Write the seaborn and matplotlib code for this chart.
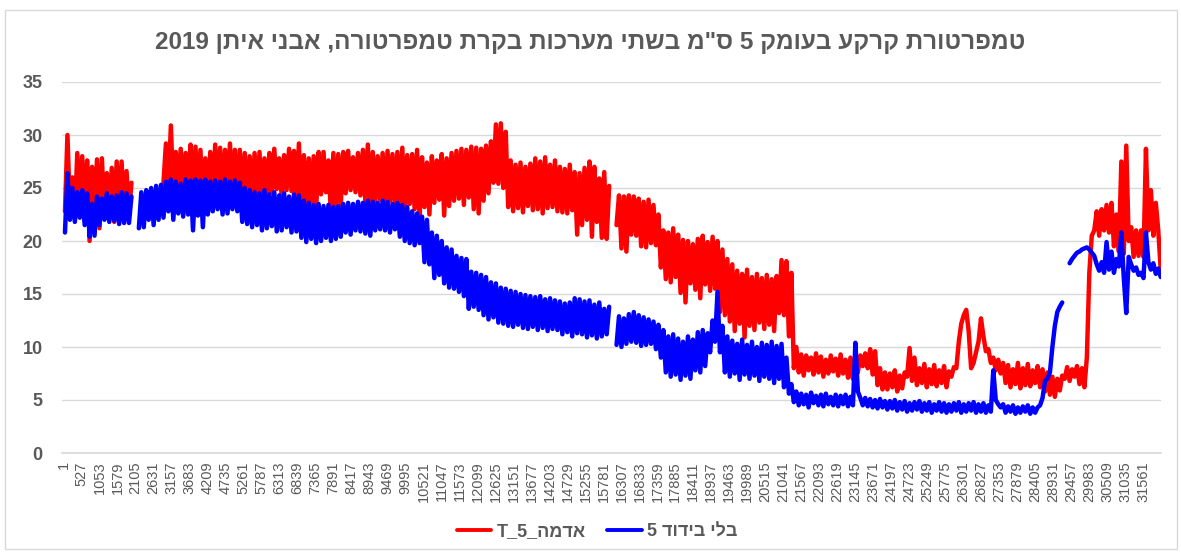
import re
import numpy as np
import pandas as pd
import matplotlib
matplotlib.use('Agg')
import matplotlib.pyplot as plt
from matplotlib.lines import Line2D
from matplotlib.patches import Rectangle
import seaborn as sns

nan = np.nan

# 10-minute logger -> 144 samples per day; two readings per day
# (early reading = daily low, afternoon reading = daily high), nan = logger gap
SAMPLES_PER_DAY = 144

red_am = [
    22.8, 23.0, 22.5, 22.8, 22.0, 20.0, 21.5, 21.2, 22.2, 22.5, 21.8, 22.3, 22.0, 22.6,  # 0-13
    nan, nan, nan, nan, nan, nan,  # 14-19
    25.5, 24.8, 24.5, 24.6, 24.3, 24.7, 23.0,  # 20-26
    23.5, 24.0, 23.2, 23.6, 23.8, 23.4, 23.9, 24.0, 23.6, 23.2,  # 27-36
    23.0, 23.3, 23.1, 22.9, 23.5, 24.6, 24.9, 24.2, 24.8, 24.7, 23.5, 22.9, 23.1, 23.2, 23.0, 24.4, 24.6, 22.4,  # 37-54
    23.0, 23.4, 24.5, 24.8, 24.6, 24.3, 23.6, 22.8, 23.5, 23.9, 23.4, 23.8, 23.2, 22.9, 22.5,  # 55-69
    23.5, 23.0, 22.0, 23.2, 22.5, 23.6, 23.9, 22.4, 23.3, 23.8, 24.0, 23.4, 24.1, 23.0, 22.6, 23.8, 24.5, 25.5, 25.4,  # 70-88
    25.0, 23.2, 22.8, 23.1, 22.7, 23.3, 22.9, 23.0, 22.6, 23.1, 23.2, 22.8, 22.7, 22.6, 22.9, 20.6, 21.5, 22.0, 20.4, 21.8, 20.3, 20.2,  # 89-110
    nan,  # 111
    21.5, 19.3, 19.0, 20.6, 20.5, 19.5, 19.4, 19.8, 19.6, 17.5,  # 112-121
    16.4, 16.1, 16.6, 15.1, 14.2, 16.0, 15.4, 14.6, 15.9, 15.3, 15.5,  # 122-132
    13.3, 13.0, 12.4, 11.5, 12.2, 10.9, 12.0, 11.6, 12.3, 11.7, 12.1, 11.5, 13.2, 13.0, 11.0,  # 133-147
    8.0, 7.6, 7.3, 7.8, 7.4, 7.6, 7.2, 7.5, 7.7, 7.3, 7.5, 7.1, 7.0, 7.6, 8.2, 8.0, 7.4, 6.4, 6.0,  # 148-166
    6.0, 6.2, 5.8, 6.1, 7.2, 6.8, 6.4, 6.6, 6.2, 6.5, 6.3, 6.6, 6.2,  # 167-179
    7.2, 8.0, 12.2, 13.5, 8.0, 9.5, 12.7, 9.6, 8.5, 7.8, 7.5,  # 180-190
    6.6, 6.2, 6.5, 6.1, 6.4, 6.3, 6.6, 6.2, 5.8, 5.5, 5.3, 5.9,  # 191-202
    7.0, 6.8, 7.2, 6.5, 6.2, 17.0, 21.0, 20.5, 21.0, 20.8, 19.5,  # 203-213
    19.0, 18.8, 20.0, 18.5, 18.6, 18.5, 21.0, 20.5, 21.0,  # 214-222
]
red_pm = [
    30.0, 26.0, 28.3, 28.0, 27.6, 27.0, 27.7, 27.8, 26.4, 26.9, 27.5, 27.5, 26.6, 25.5,
    nan, nan, nan, nan, nan, nan,
    29.2, 30.9, 28.4, 28.7, 28.3, 29.1, 28.9,
    28.6, 27.8, 28.4, 29.1, 28.8, 28.6, 29.2, 28.6, 28.6, 28.3,
    28.0, 28.3, 28.4, 27.8, 28.3, 28.7, 27.8, 28.1, 28.7, 28.5, 29.2, 28.1, 27.8, 28.0, 28.4, 28.4, 27.6, 28.3,
    28.2, 28.4, 28.5, 27.9, 28.3, 28.6, 29.1, 28.4, 28.0, 28.3, 28.5, 28.2, 28.4, 28.8, 28.1,
    28.2, 28.6, 27.9, 27.4, 28.0, 27.6, 28.2, 27.8, 28.3, 28.5, 28.7, 28.6, 28.9, 28.8, 28.7, 29.0, 29.4, 31.0, 31.1,
    30.3, 27.6, 27.2, 27.4, 27.0, 27.3, 27.8, 27.5, 27.9, 27.2, 27.6, 27.0, 26.8, 27.2, 26.5, 26.4, 26.9, 27.5, 27.0, 25.9, 26.5, 25.2,
    nan,
    24.3, 24.2, 24.3, 24.2, 24.0, 23.7, 23.9, 23.4, 22.5, 21.0,
    20.8, 21.2, 20.6, 20.1, 20.0, 19.7, 20.2, 20.5, 19.9, 20.4, 20.0,
    19.2, 18.3, 17.8, 17.2, 16.9, 17.3, 16.6, 16.9, 16.5, 16.8, 16.4, 16.7, 18.2, 18.1, 17.0,
    10.0, 9.3, 9.2, 9.0, 9.4, 9.1, 8.8, 9.2, 8.9, 9.3, 8.8, 9.0, 8.6, 9.2, 9.4, 9.8, 9.6, 8.0, 7.6,
    7.5, 7.8, 7.3, 7.6, 9.9, 9.0, 8.0, 8.4, 7.9, 8.3, 7.8, 8.2, 7.7,
    8.1, 10.5, 13.0, 11.5, 8.5, 10.5, 11.0, 9.8, 9.0, 8.8, 8.5,
    8.3, 7.9, 8.5, 8.0, 8.4, 7.8, 8.2, 7.9, 7.6, 7.2, 7.0, 7.3,
    8.1, 7.9, 8.2, 8.0, 9.0, 20.5, 22.8, 23.0, 23.4, 23.6, 22.5,
    27.5, 29.0, 21.3, 21.0, 21.0, 28.7, 24.8, 23.6, 17.3,
]
blue_am = [
    20.8, 22.0, 21.8, 22.2, 21.5, 20.4, 20.5, 21.5, 22.0, 21.8, 21.9, 21.6, 21.7, 21.7,  # 0-13
    nan,  # 14
    21.2, 21.3, 22.0, 21.5, 22.0,  # 15-19
    22.2, 22.8, 22.0, 22.6, 22.3, 22.5, 21.0,  # 20-26
    22.4, 21.3, 22.5, 22.8, 23.0, 22.5, 22.6, 23.0, 22.8, 21.8,  # 27-36
    21.6, 21.3, 21.5, 21.0, 21.2, 21.4, 20.9, 21.0, 21.3, 20.8, 20.9, 20.3, 19.9, 20.2, 19.8, 20.0, 20.3, 20.0,  # 37-54
    20.2, 20.4, 20.8, 20.6, 21.0, 20.9, 20.7, 20.5, 21.0, 21.1, 21.0, 20.8, 21.1, 20.4, 20.0,  # 55-69
    19.8, 19.6, 19.8, 18.0, 17.8, 16.5, 16.8, 16.0, 15.6, 15.5, 15.2, 14.8, 13.6, 13.8, 13.5, 13.0, 12.6, 12.8, 12.3,  # 70-88
    12.2, 12.0, 11.9, 12.1, 11.8, 11.7, 11.9, 11.6, 11.8, 11.5, 11.7, 11.6, 11.2, 11.4, 11.0, 11.3, 11.2, 10.9, 11.1, 10.8, 11.0, 11.2,  # 89-110
    nan,  # 111
    10.2, 10.0, 10.3, 10.5, 10.4, 10.1, 10.2, 10.3, 9.8, 9.0,  # 112-121
    7.6, 7.2, 7.4, 6.9, 7.3, 7.0, 7.8, 7.6, 8.2, 9.5, 10.5,  # 122-132
    9.5, 7.6, 7.2, 7.5, 6.9, 7.4, 7.0, 7.3, 6.8, 7.2, 7.0, 6.6, 7.0, 6.2, 5.6,  # 133-147
    4.8, 4.5, 4.6, 4.3, 4.7, 4.5, 4.4, 4.6, 4.5, 4.4, 4.6, 4.4, 4.5, 5.8, 4.5, 4.4, 4.3, 4.2, 4.3,  # 148-166
    4.1, 4.2, 4.0, 4.1, 3.9, 4.0, 4.1, 3.9, 4.0, 3.8, 4.0, 3.9, 3.8,  # 167-179
    3.9, 4.0, 3.8, 3.9, 4.0, 3.8, 3.9, 3.8, 3.9, 5.0, 4.3,  # 180-190
    3.8, 3.9, 3.7, 3.8, 3.9, 3.7, 3.8, 4.5, 6.8, 7.6, 12.0, 13.8,  # 191-202
    nan,  # 203
    17.9, 18.6, 19.0, 19.3, 19.2,  # 204-208
    18.6, 17.2, 17.0, 17.3, 17.0, 17.6, 16.5, 18.5, 17.2, 16.8, 16.5, 18.0, 17.9, 17.4,  # 209-222
]
blue_pm = [
    26.4, 25.0, 24.6, 24.8, 24.5, 23.5, 24.2, 24.0, 24.5, 24.2, 24.3, 24.6, 24.5, 24.2,
    nan,
    24.6, 24.8, 25.0, 25.2, 25.3,
    25.6, 25.8, 25.6, 25.4, 25.8, 25.7, 25.8,
    25.7, 25.8, 25.6, 25.7, 25.6, 25.8, 25.6, 25.7, 25.5, 25.0,
    24.8, 24.6, 24.5, 24.8, 24.4, 24.6, 24.3, 24.5, 24.2, 24.4, 24.3, 23.8, 23.6, 23.4, 23.5, 23.3, 23.4, 23.2,
    23.3, 23.5, 23.6, 23.5, 23.7, 23.6, 23.8, 23.7, 23.6, 23.8, 23.7, 23.5, 23.6, 23.4, 23.2,
    22.8, 22.6, 22.3, 22.0, 20.8, 20.5, 20.0, 19.4, 19.2, 18.6, 18.4, 18.3, 17.1, 17.0, 16.8, 16.6, 16.1, 16.0, 15.6,
    15.5, 15.3, 15.2, 15.0, 14.9, 14.8, 14.7, 14.8, 14.5, 14.6, 14.4, 14.3, 14.1, 14.2, 14.6, 14.5, 14.3, 14.4, 14.0, 14.2, 13.6, 13.8,
    nan,
    12.9, 12.7, 13.1, 13.3, 13.0, 12.8, 12.6, 12.4, 12.1, 11.6,
    11.0, 11.2, 10.8, 10.5, 11.0, 10.7, 11.4, 11.6, 11.3, 12.5, 15.2,
    12.0, 11.0, 10.6, 10.3, 10.7, 10.2, 10.5, 10.0, 10.4, 10.2, 10.5, 10.1, 10.3, 9.0, 6.5,
    5.8, 5.6, 5.5, 5.7, 5.4, 5.5, 5.6, 5.3, 5.5, 5.4, 5.5, 5.3, 10.4, 5.2, 5.2, 5.1, 5.0, 5.1, 4.9,
    4.9, 5.0, 4.8, 4.9, 4.7, 4.8, 4.9, 4.7, 4.8, 4.6, 4.8, 4.7, 4.6,
    4.7, 4.8, 4.6, 4.7, 4.8, 4.6, 4.7, 4.5, 7.8, 4.6, 4.6,
    4.4, 4.5, 4.3, 4.4, 4.5, 4.3, 4.3, 5.2, 7.0, 10.0, 13.3, 14.2,
    nan,
    18.3, 18.9, 19.2, 19.4, 18.9,
    17.8, 18.0, 19.9, 19.0, 18.3, 20.8, 13.2, 17.8, 17.5, 17.0, 20.8, 17.3, 16.9, 16.6,
]

title = 'טמפרטורת קרקע בעומק 5 ס"מ בשתי מערכות בקרת טמפרטורה, אבני איתן 2019'
red_name = 'אדמה_5_T'
blue_name = 'בלי בידוד 5'
tick_labels = [str(t) for t in range(1, 31562, 526)]


def rtl(s):
    # matplotlib has no bidi: flip the string, keep digit / latin runs readable
    out = s[::-1]
    return re.sub(r'[0-9A-Za-z]+', lambda m: m.group(0)[::-1], out)


rows = []
seg = 0
for name, am, pm in [(red_name, red_am, red_pm), (blue_name, blue_am, blue_pm)]:
    seg += 1
    for day, (lo, hi) in enumerate(zip(am, pm)):
        if np.isnan(lo):
            seg += 1
            continue
        rows.append((day * SAMPLES_PER_DAY + 37, lo, name, seg))
        rows.append((day * SAMPLES_PER_DAY + 109, hi, name, seg))
df = pd.DataFrame(rows, columns=['sample', 'temp', 'series', 'seg'])

sns.set_theme(style='white')
plt.rcParams['font.family'] = ['Liberation Sans', 'DejaVu Sans']

W, H = 1181, 554
fig = plt.figure(figsize=(W / 100, H / 100), dpi=100)
ax = fig.add_axes([62 / W, 1 - 453 / H, (1161 - 62) / W, (453 - 82) / H])

colors = {red_name: '#ff0000', blue_name: '#0000ff'}
sns.lineplot(data=df, x='sample', y='temp', hue='series', units='seg', estimator=None,
             sort=False, palette=colors, lw=3.2, legend=False, ax=ax)

ax.set_xlim(-50, 32085)
ax.set_ylim(0, 35)
ax.set_yticks(range(0, 36, 5))
ax.set_yticklabels([str(v) for v in range(0, 36, 5)], fontsize=13, fontweight='bold', color='#595959')
ax.set_xticks([int(t) for t in tick_labels])
ax.set_xticklabels(tick_labels, rotation=90, fontsize=10.5, color='#595959')
ax.tick_params(axis='y', length=0, pad=14)
ax.tick_params(axis='x', length=0, pad=6)
ax.set_xlabel('')
ax.set_ylabel('')
ax.yaxis.grid(True, color='#d9d9d9', lw=1)
ax.set_axisbelow(True)
for side in ['top', 'right', 'left']:
    ax.spines[side].set_visible(False)
ax.spines['bottom'].set_color('#d9d9d9')

fig.text(590 / W, 1 - 42 / H, rtl(title), ha='center', va='center',
         fontsize=17.5, fontweight='bold', color='#595959')

handles = [Line2D([], [], color=colors[red_name], lw=2.8),
           Line2D([], [], color=colors[blue_name], lw=2.8)]
fig.legend(handles, [rtl(red_name), rtl(blue_name)], loc='center',
           bbox_to_anchor=(597 / W, 1 - 532 / H), ncol=2, frameon=False,
           prop={'weight': 'bold', 'size': 13}, labelcolor='#595959',
           handlelength=1.9, handletextpad=0.3, columnspacing=1.2)

fig.patches.append(Rectangle((5 / W, 5 / H), 1172 / W, 539 / H, transform=fig.transFigure,
                             fill=False, edgecolor='#d9d9d9', lw=1))

fig.savefig('out.png', dpi=100)
